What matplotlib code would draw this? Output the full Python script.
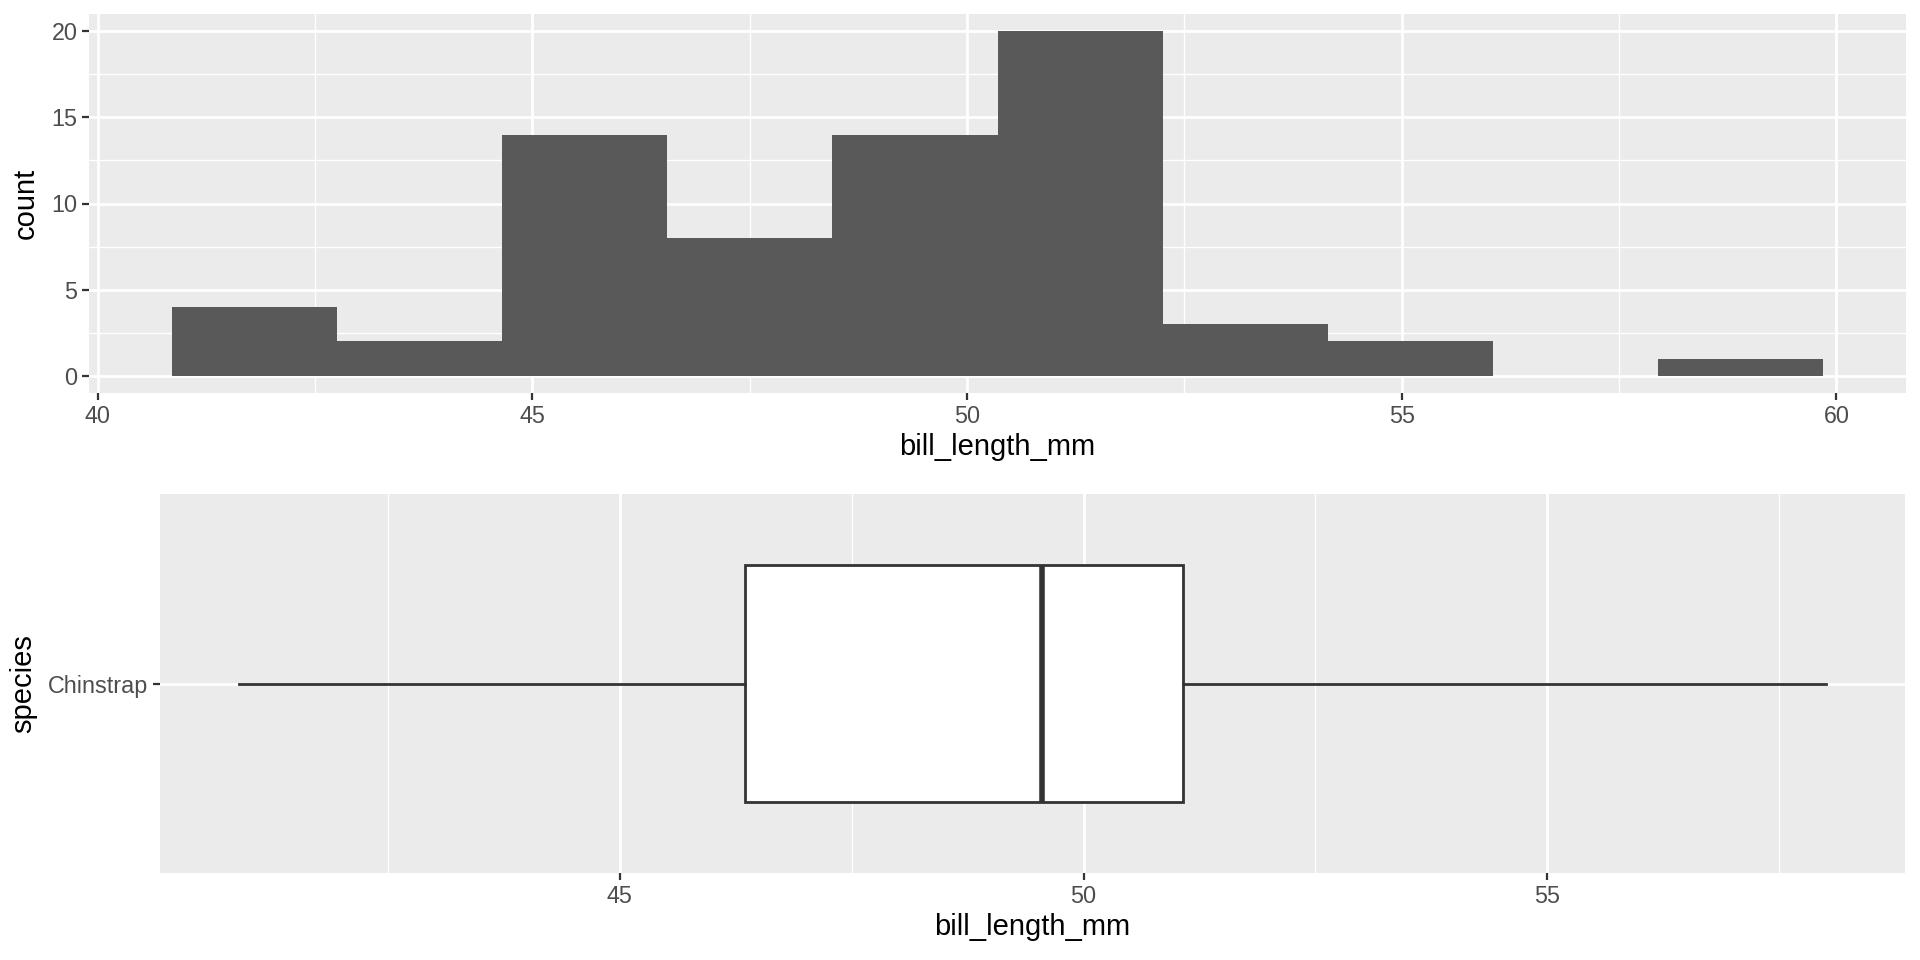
import numpy as np
import matplotlib.pyplot as plt
from matplotlib.ticker import MultipleLocator, FixedLocator

plt.rcParams['font.family'] = ['Liberation Sans', 'DejaVu Sans']

# Chinstrap bill length histogram (10 bins, width 1.9)
bin_edges = [40.85, 42.75, 44.65, 46.55, 48.45, 50.35, 52.25, 54.15, 56.05, 57.95, 59.85]
bin_counts = [4, 2, 14, 8, 14, 20, 3, 2, 0, 1]

# Boxplot summary for the same data
species = ['Chinstrap']
bill_min = [40.9]
bill_q1 = [46.35]
bill_median = [49.55]
bill_q3 = [51.075]
bill_max = [58.0]

PANEL = '#EBEBEB'
TICK_TXT = '#4D4D4D'
DARK = '#333333'


def ggplot_axes(ax):
    ax.set_facecolor(PANEL)
    for s in ax.spines.values():
        s.set_visible(False)
    ax.set_axisbelow(True)
    ax.grid(True, which='major', color='white', linewidth=2.0)
    ax.grid(True, which='minor', color='white', linewidth=1.0)
    ax.tick_params(which='major', length=5.3, width=1.6, color=DARK,
                   labelsize=16.8, labelcolor=TICK_TXT, pad=3)
    ax.tick_params(which='minor', length=0)


fig = plt.figure(figsize=(19.2, 9.6), dpi=100)

### Top: histogram
ax1 = fig.add_axes([89 / 1920, 1 - 393 / 960, (1906 - 89) / 1920, (393 - 14) / 960])
ggplot_axes(ax1)
edges = np.array(bin_edges)
ax1.bar(edges[:-1], bin_counts, width=np.diff(edges), align='edge',
        color='#595959', linewidth=0)
xr = edges[-1] - edges[0]
ax1.set_xlim(edges[0] - 0.05 * xr, edges[-1] + 0.05 * xr)
ax1.set_ylim(-1, 21)
ax1.xaxis.set_major_locator(MultipleLocator(5))
ax1.xaxis.set_minor_locator(FixedLocator([42.5, 47.5, 52.5, 57.5]))
ax1.yaxis.set_major_locator(MultipleLocator(5))
ax1.yaxis.set_minor_locator(FixedLocator([2.5, 7.5, 12.5, 17.5]))
ax1.set_xlabel('bill_length_mm', fontsize=21, labelpad=4)
ax1.set_ylabel('count', fontsize=21, labelpad=8)

### Bottom: boxplot
ax2 = fig.add_axes([160 / 1920, 1 - 873 / 960, (1905 - 160) / 1920, (873 - 494) / 960])
ggplot_axes(ax2)
stats = [dict(label=species[i], whislo=bill_min[i], q1=bill_q1[i], med=bill_median[i],
              q3=bill_q3[i], whishi=bill_max[i], fliers=[])
         for i in range(len(species))]
ax2.bxp(stats, positions=[1], widths=0.75, orientation='horizontal',
        showcaps=False, showfliers=False, patch_artist=True,
        boxprops=dict(facecolor='white', edgecolor=DARK, linewidth=2.0),
        whiskerprops=dict(color=DARK, linewidth=2.0),
        medianprops=dict(color=DARK, linewidth=4.0, solid_capstyle='butt'))
xr2 = bill_max[0] - bill_min[0]
ax2.set_xlim(bill_min[0] - 0.05 * xr2, bill_max[0] + 0.05 * xr2)
ax2.set_ylim(0.4, 1.6)
ax2.xaxis.set_major_locator(FixedLocator([45, 50, 55]))
ax2.xaxis.set_minor_locator(FixedLocator([42.5, 47.5, 52.5, 57.5]))
ax2.set_yticks([1])
ax2.set_yticklabels(species)
ax2.set_xlabel('bill_length_mm', fontsize=21, labelpad=4)
ax2.set_ylabel('species', fontsize=21, labelpad=8)

fig.savefig('out.png', dpi=100)
